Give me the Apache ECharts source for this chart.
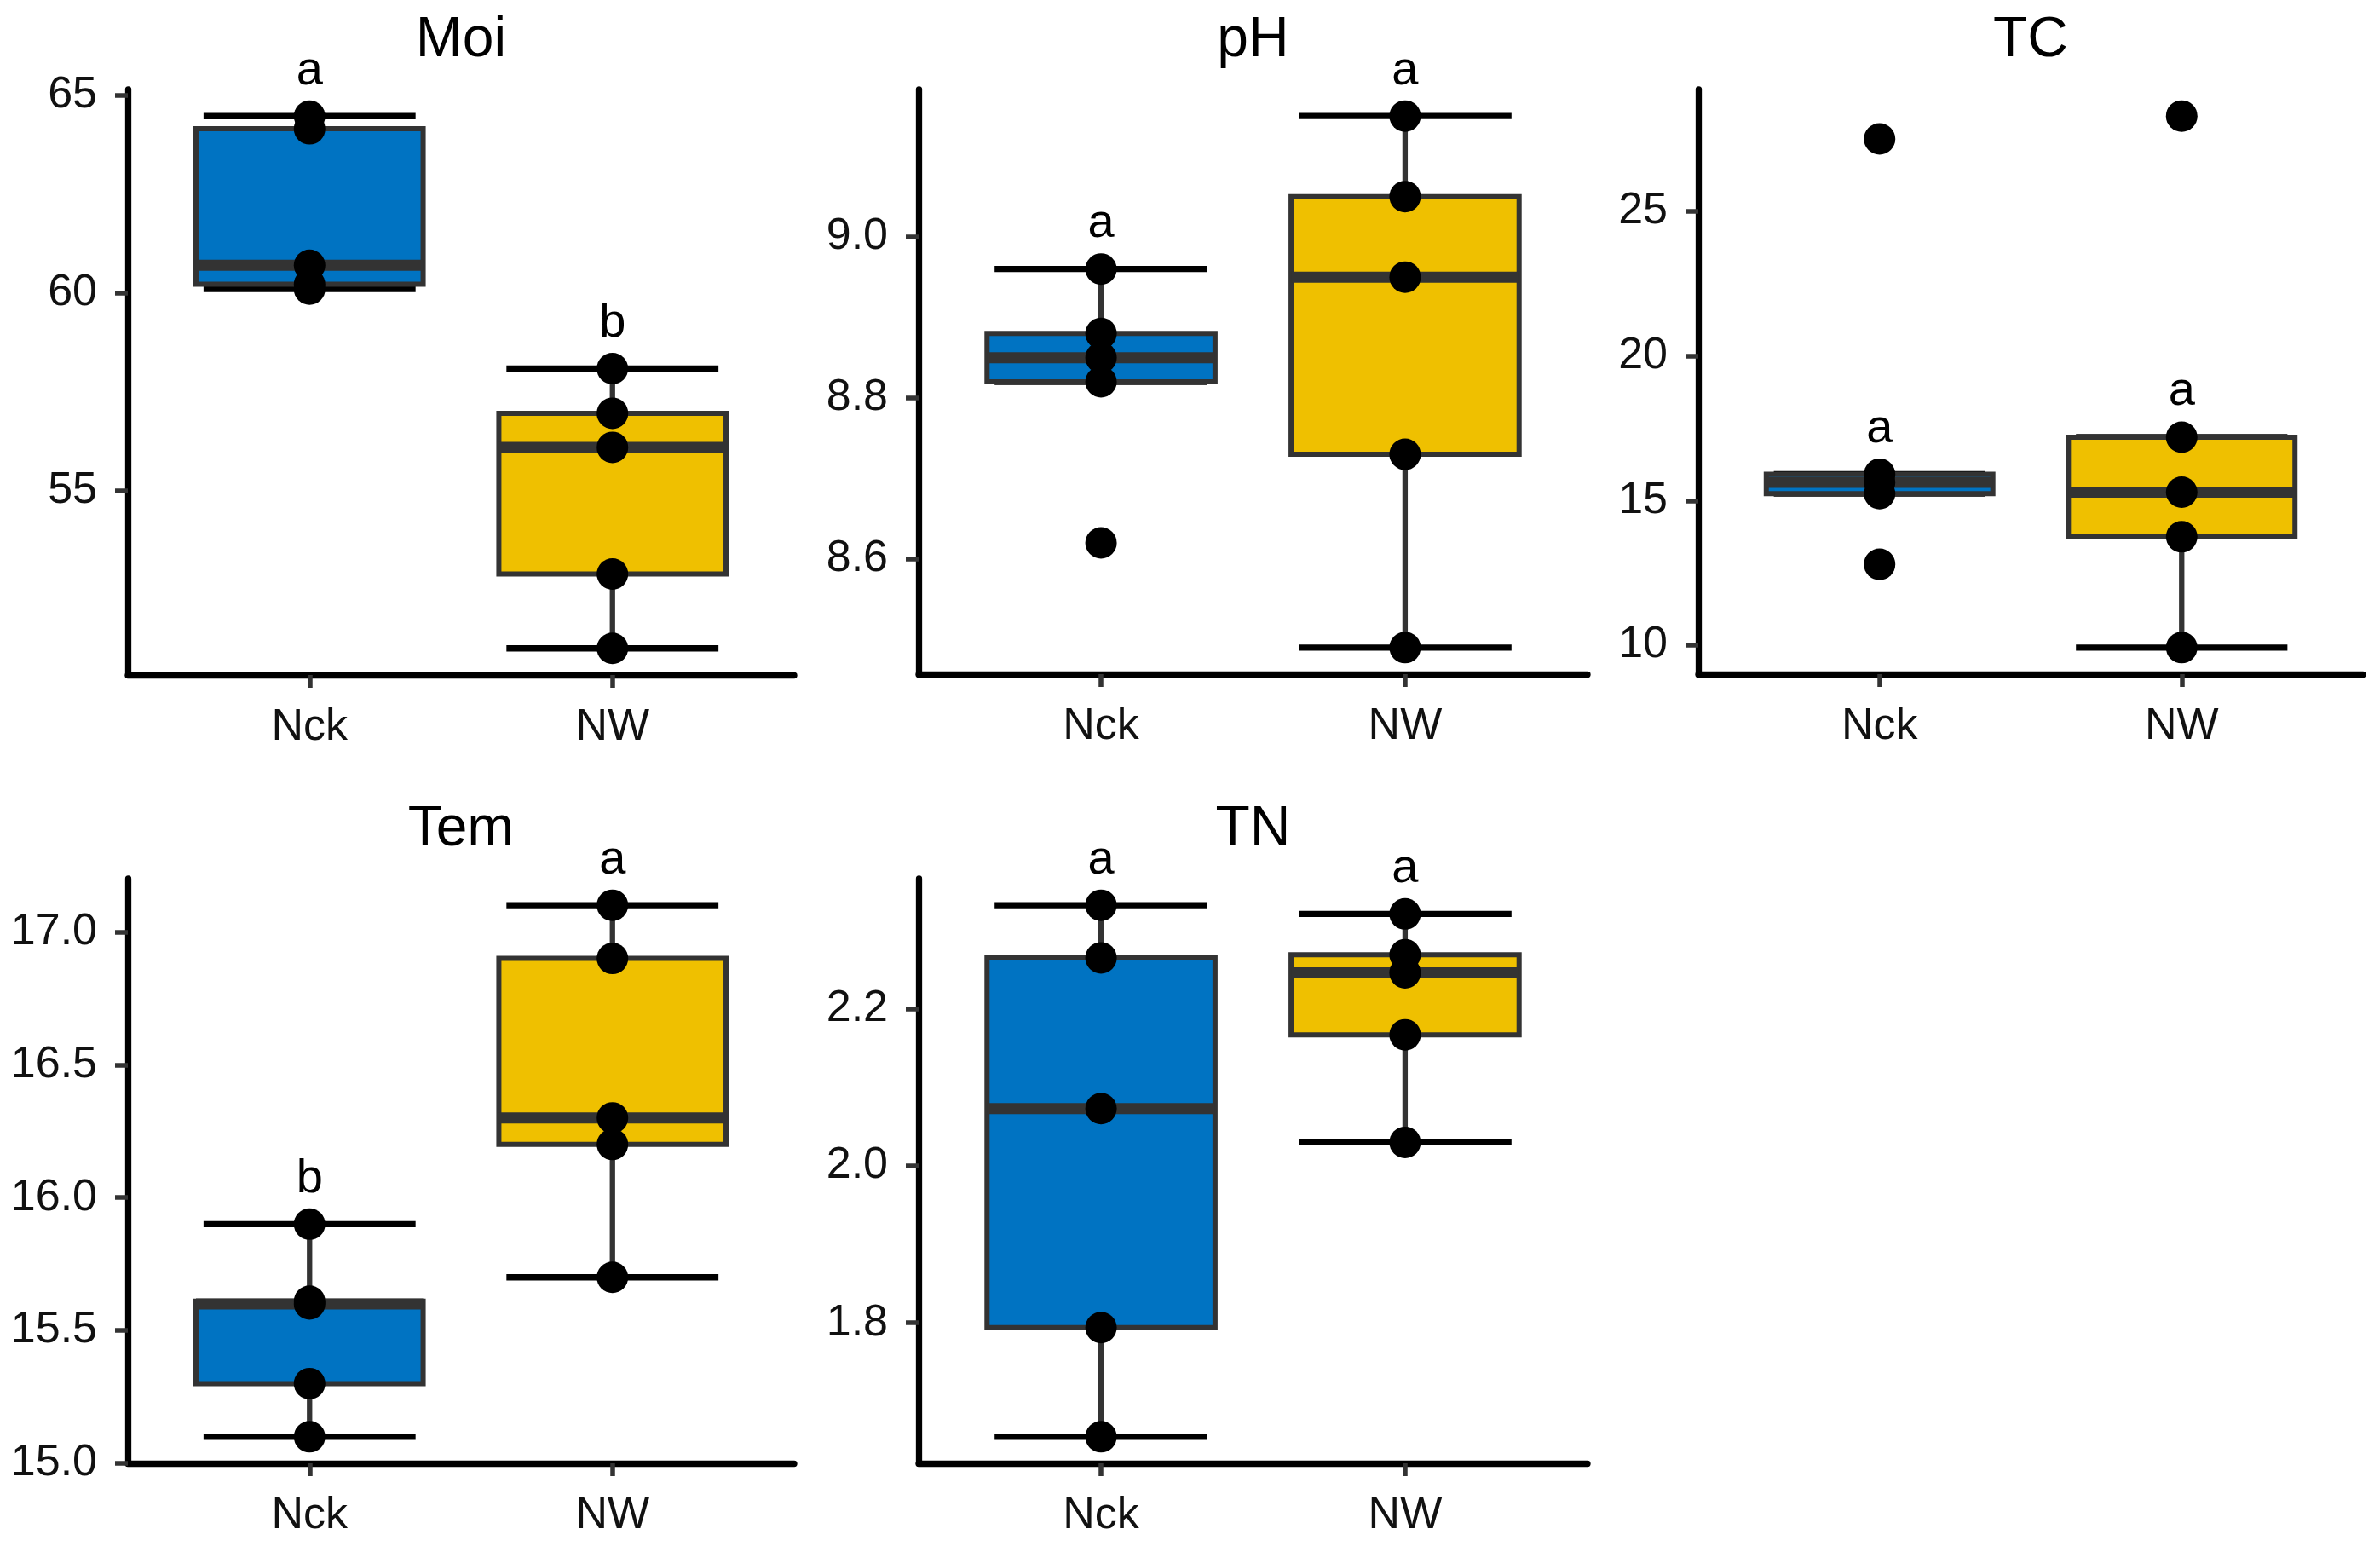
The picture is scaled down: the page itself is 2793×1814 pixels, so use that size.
<!DOCTYPE html>
<html>
<head>
<meta charset="utf-8">
<script src="https://cdn.jsdelivr.net/npm/echarts@6/dist/echarts.min.js"></script>
<style>
html, body { margin: 0; padding: 0; background: #fff; }
#main { width: 2793px; height: 1814px; }
</style>
</head>
<body>
<div id="main"></div>
<script>
// groups and panel names
var groups = ['Nck', 'NW'];
var titles = ['Moi', 'pH', 'TC', 'Tem', 'TN'];

// raw sample values (5 per group)
var moiNck = [60.1, 60.22, 60.7, 64.15, 64.47];
var moiNW = [51.02, 52.9, 56.1, 56.96, 58.09];
var phNck = [8.62, 8.82, 8.85, 8.88, 8.96];
var phNW = [8.49, 8.73, 8.95, 9.05, 9.15];
var tcNck = [12.8, 15.24, 15.63, 15.91, 27.5];
var tcNW = [9.92, 13.75, 15.29, 17.19, 28.29];
var temNck = [15.1, 15.3, 15.6, 15.61, 15.9];
var temNW = [15.7, 16.2, 16.3, 16.9, 17.1];
var tnNck = [1.655, 1.794, 2.073, 2.265, 2.332];
var tnNW = [2.03, 2.167, 2.246, 2.269, 2.321];

// significance letters (Nck, NW)
var letters = [['a', 'b'], ['a', 'a'], ['a', 'a'], ['b', 'a'], ['a', 'a']];

// y tick labels
var ticks = [
    [55, 60, 65],
    [8.6, 8.8, 9.0],
    [10, 15, 20, 25],
    [15.0, 15.5, 16.0, 16.5, 17.0],
    [1.8, 2.0, 2.2]
];
var tickDigits = [0, 1, 0, 1, 1];

var values = [
    [moiNck, moiNW],
    [phNck, phNW],
    [tcNck, tcNW],
    [temNck, temNW],
    [tnNck, tnNW]
];

// layout (px)
var panels = [
    { left: 150, top: 105, width: 782, height: 687 },
    { left: 1078, top: 105, width: 785, height: 686 },
    { left: 1993, top: 105, width: 780, height: 686 },
    { left: 150, top: 1031, width: 782, height: 686 },
    { left: 1078, top: 1031, width: 785, height: 686 }
];
var boxColors = ['#0073C2', '#EFC000'];
var FONT = '"Liberation Sans", Arial, sans-serif';

// ggplot-style quantile (type 7) and whiskers
function quantile(s, p) {
    var h = (s.length - 1) * p, lo = Math.floor(h);
    if (lo + 1 >= s.length) return s[lo];
    return s[lo] + (h - lo) * (s[lo + 1] - s[lo]);
}
function boxStats(arr) {
    var s = arr.slice().sort(function (a, b) { return a - b; });
    var q1 = quantile(s, 0.25), md = quantile(s, 0.5), q3 = quantile(s, 0.75);
    var iqr = q3 - q1;
    var inside = s.filter(function (v) { return v >= q1 - 1.5 * iqr && v <= q3 + 1.5 * iqr; });
    return [inside[0], q1, md, q3, inside[inside.length - 1]];
}

function makeRender(pi) {
    return function (params, api) {
        var x = api.value(0);
        var lo = api.value(1), q1 = api.value(2), md = api.value(3), q3 = api.value(4), hi = api.value(5);
        var ci = params.dataIndex;
        var cx = api.coord([x, md])[0];
        var yLo = api.coord([x, lo])[1];
        var yQ1 = api.coord([x, q1])[1];
        var yMd = api.coord([x, md])[1];
        var yQ3 = api.coord([x, q3])[1];
        var yHi = api.coord([x, hi])[1];
        var hb = api.size([0.75, 0])[0] / 2;
        var hc = api.size([0.7, 0])[0] / 2;
        return {
            type: 'group',
            children: [
                { type: 'line', shape: { x1: cx, y1: yHi, x2: cx, y2: yQ3 }, style: { stroke: '#333333', lineWidth: 6.3 } },
                { type: 'line', shape: { x1: cx, y1: yQ1, x2: cx, y2: yLo }, style: { stroke: '#333333', lineWidth: 6.3 } },
                { type: 'line', shape: { x1: cx - hc, y1: yHi, x2: cx + hc, y2: yHi }, style: { stroke: '#000', lineWidth: 7.3 } },
                { type: 'line', shape: { x1: cx - hc, y1: yLo, x2: cx + hc, y2: yLo }, style: { stroke: '#000', lineWidth: 7.3 } },
                { type: 'rect', shape: { x: cx - hb, y: yQ3, width: hb * 2, height: yQ1 - yQ3 },
                  style: { fill: boxColors[ci], stroke: '#333333', lineWidth: 6 } },
                { type: 'line', shape: { x1: cx - hb, y1: yMd, x2: cx + hb, y2: yMd }, style: { stroke: '#333333', lineWidth: 13 } },
                { type: 'text', x: cx, y: yHi - 53,
                  style: { text: letters[pi][ci], fontSize: 56, fontFamily: FONT, fill: '#000', align: 'center', verticalAlign: 'middle' } }
            ]
        };
    };
}

var grid = [], xAxis = [], yAxis = [], series = [], graphic = [];
panels.forEach(function (p, i) {
    var all = values[i][0].concat(values[i][1]);
    var mn = Math.min.apply(null, all), mx = Math.max.apply(null, all);
    var pad = (mx - mn) * 0.05;
    grid.push({ left: p.left, top: p.top, width: p.width, height: p.height, outerBoundsMode: 'none' });
    xAxis.push({
        type: 'value', gridIndex: i, min: 0.4, max: 2.6,
        splitLine: { show: false },
        axisLine: { onZero: false, lineStyle: { color: '#000', width: 7.3 } },
        axisTick: { customValues: [1, 2], length: 15, lineStyle: { color: '#333333', width: 5.5 } },
        axisLabel: { customValues: [1, 2], margin: 36, fontSize: 52, fontFamily: FONT, color: '#111',
            formatter: function (v) { return groups[Math.round(v) - 1]; } }
    });
    yAxis.push({
        type: 'value', gridIndex: i, min: mn - pad, max: mx + pad,
        splitLine: { show: false },
        axisLine: { show: true, onZero: false, lineStyle: { color: '#000', width: 7.3 } },
        axisTick: { show: true, customValues: ticks[i], length: 15, lineStyle: { color: '#333333', width: 5.5 } },
        axisLabel: { customValues: ticks[i], margin: 36, fontSize: 52, fontFamily: FONT, color: '#111',
            formatter: (function (d) { return function (v) { return v.toFixed(d); }; })(tickDigits[i]) }
    });
    series.push({
        type: 'custom', xAxisIndex: i, yAxisIndex: i, clip: false,
        renderItem: makeRender(i),
        data: [[1].concat(boxStats(values[i][0])), [2].concat(boxStats(values[i][1]))]
    });
    var pts = [];
    values[i].forEach(function (arr, g) {
        arr.forEach(function (v) { pts.push([g + 1, v]); });
    });
    series.push({
        type: 'scatter', xAxisIndex: i, yAxisIndex: i, clip: false,
        symbol: 'circle', symbolSize: 37,
        itemStyle: { color: '#000', opacity: 1 },
        data: pts
    });
    graphic.push({
        type: 'text', x: p.left + p.width / 2, y: p.top - 57,
        style: { text: titles[i], fontSize: 66, fontFamily: FONT, fill: '#000', align: 'center', verticalAlign: 'middle' }
    });
});

var myChart = echarts.init(document.getElementById('main'));
myChart.setOption({
    animation: false,
    backgroundColor: '#fff',
    grid: grid,
    xAxis: xAxis,
    yAxis: yAxis,
    series: series,
    graphic: graphic
});
</script>
</body>
</html>
